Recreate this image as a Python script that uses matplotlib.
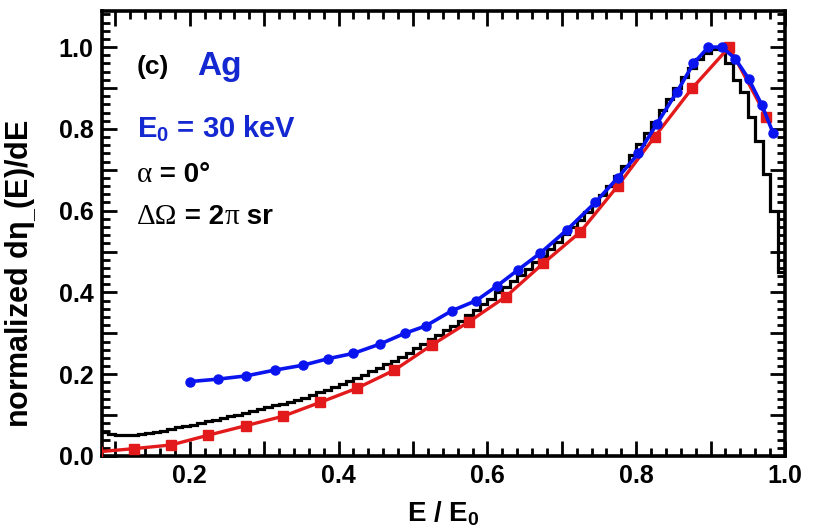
import numpy as np
import matplotlib
matplotlib.use("Agg")
import matplotlib.pyplot as plt
from matplotlib.ticker import MultipleLocator, FuncFormatter
from matplotlib.offsetbox import TextArea, HPacker, AnchoredOffsetbox

plt.rcParams['font.family'] = ['Liberation Sans', 'DejaVu Sans']
plt.rcParams['font.weight'] = 'bold'
plt.rcParams['mathtext.fontset'] = 'custom'
plt.rcParams['mathtext.rm'] = 'Liberation Sans:bold'
plt.rcParams['mathtext.bf'] = 'Liberation Sans:bold'
plt.rcParams['mathtext.it'] = 'Liberation Sans:bold'
plt.rcParams['mathtext.default'] = 'rm'

# black histogram (simulation), bins of 0.01 starting at 0.08
hist_start = 0.08
hist_width = 0.01
hist_vals = [0.058, 0.055, 0.052, 0.051, 0.051, 0.053, 0.056, 0.059, 0.062, 0.066,
             0.070, 0.074, 0.077, 0.081, 0.085, 0.089, 0.093, 0.097, 0.101, 0.106,
             0.110, 0.115, 0.119, 0.124, 0.128, 0.133, 0.137, 0.143, 0.149, 0.156,
             0.162, 0.169, 0.176, 0.183, 0.191, 0.199, 0.207, 0.215, 0.224, 0.233,
             0.243, 0.253, 0.263, 0.274, 0.285, 0.296, 0.307, 0.319, 0.331, 0.344,
             0.357, 0.371, 0.385, 0.400, 0.414, 0.428, 0.443, 0.458, 0.474, 0.490,
             0.507, 0.524, 0.542, 0.560, 0.578, 0.597, 0.617, 0.638, 0.660, 0.684,
             0.708, 0.735, 0.762, 0.790, 0.818, 0.846, 0.873, 0.900, 0.926, 0.950,
             0.970, 0.985, 0.995, 1.000, 0.960, 0.920, 0.890, 0.830, 0.770, 0.690,
             0.600, 0.450]

# red squares
red_x = [0.075, 0.125, 0.175, 0.225, 0.275, 0.325, 0.375, 0.425, 0.475, 0.525,
         0.575, 0.625, 0.675, 0.725, 0.775, 0.825, 0.875, 0.925, 0.975]
red_y = [0.010, 0.018, 0.027, 0.051, 0.074, 0.097, 0.131, 0.166, 0.210, 0.271,
         0.328, 0.390, 0.471, 0.548, 0.660, 0.781, 0.899, 1.000, 0.830]

# blue circles
blue_x = [0.200, 0.238, 0.276, 0.314, 0.352, 0.386, 0.420, 0.456, 0.489, 0.517,
          0.552, 0.585, 0.613, 0.641, 0.671, 0.707, 0.745, 0.775, 0.803, 0.828,
          0.855, 0.877, 0.897, 0.915, 0.933, 0.951, 0.969, 0.984]
blue_y = [0.182, 0.188, 0.196, 0.210, 0.222, 0.238, 0.251, 0.274, 0.300, 0.318,
          0.355, 0.380, 0.416, 0.455, 0.496, 0.553, 0.620, 0.680, 0.740, 0.813,
          0.891, 0.960, 1.000, 1.000, 0.972, 0.923, 0.858, 0.790]

edges = hist_start + hist_width * np.arange(len(hist_vals) + 1)

fig = plt.figure(figsize=(8.16, 5.29), dpi=100)
ax = fig.add_axes([0.125, 0.138, 0.837, 0.841])

ax.stairs(hist_vals, edges, color='black', lw=2.3, baseline=None, zorder=2)
ax.plot(red_x, red_y, color='#e31a1c', lw=2.4, marker='s', ms=6.5, zorder=3)
ax.plot(blue_x, blue_y, color='#0a14ee', lw=2.6, marker='o', ms=6.5, zorder=4)

ax.set_xlim(0.082, 1.0)
ax.set_ylim(0.0, 1.088)

ax.xaxis.set_major_locator(MultipleLocator(0.1))
ax.xaxis.set_minor_locator(MultipleLocator(0.02))
ax.yaxis.set_major_locator(MultipleLocator(0.1))
ax.yaxis.set_minor_locator(MultipleLocator(0.02))

def every_other(v, pos):
    k = int(round(v * 10))
    return '%.1f' % v if k % 2 == 0 else ''

ax.xaxis.set_major_formatter(FuncFormatter(every_other))
ax.yaxis.set_major_formatter(FuncFormatter(every_other))

ax.tick_params(which='both', direction='in', top=True, right=True, width=2.0,
               labelsize=18)
ax.tick_params(which='major', length=11, pad=6)
ax.tick_params(which='minor', length=5.5)
for s in ax.spines.values():
    s.set_linewidth(2.6)

ax.set_xlabel(r'E / E$_0$', fontsize=20, fontweight='bold')
ax.xaxis.set_label_coords(0.5, -0.098)
ax.set_ylabel(r'normalized d$\eta_{\_}$(E)/dE', fontsize=22, fontweight='bold')
ax.yaxis.set_label_coords(-0.093, 0.41)

blue = '#1428d2'
ax.text(0.051, 0.858, '(c)', transform=ax.transAxes, fontsize=19, va='baseline')
ax.text(0.139, 0.856, 'Ag', transform=ax.transAxes, fontsize=24, va='baseline',
        color=blue)
ax.text(0.051, 0.717, r'E$_0$ = 30 keV', transform=ax.transAxes, fontsize=21,
        va='baseline', color=blue)

serif = dict(family='Liberation Serif', weight='normal', size=21, color='black')
sans = dict(family='Liberation Sans', weight='bold', size=20, color='black')

def mixed_line(parts, x, y):
    areas = [TextArea(t, textprops=p) for t, p in parts]
    box = HPacker(children=areas, pad=0, sep=0, align='baseline')
    ab = AnchoredOffsetbox(loc='lower left', child=box, pad=0, borderpad=0,
                           frameon=False, bbox_to_anchor=(x, y),
                           bbox_transform=ax.transAxes)
    ax.add_artist(ab)

mixed_line([('α', serif), (' = 0°', sans)], 0.051, 0.603)
mixed_line([('ΔΩ', serif), (' = 2', sans), ('π', serif), (' sr', sans)],
           0.051, 0.509)

fig.savefig('out.png', dpi=100)
